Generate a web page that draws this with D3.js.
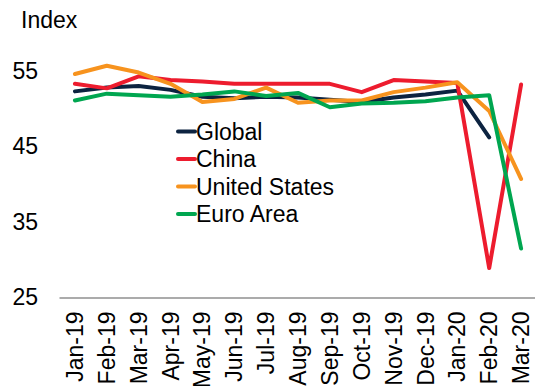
<!DOCTYPE html>
<html>
<head>
<meta charset="utf-8">
<script src="https://cdn.jsdelivr.net/npm/d3@7"></script>
<style>
  html, body { margin: 0; padding: 0; background: #fff; }
  svg { display: block; font-family: Arial, "Liberation Sans", sans-serif; }
</style>
</head>
<body>
<svg id="chart" width="535" height="386"></svg>
<script>
// Monthly composite PMI readings
const months = ["Jan-19","Feb-19","Mar-19","Apr-19","May-19","Jun-19","Jul-19","Aug-19",
                "Sep-19","Oct-19","Nov-19","Dec-19","Jan-20","Feb-20","Mar-20"];
const globalPmi = [52.3, 52.8, 53.0, 52.5, 51.6, 51.4, 51.6, 51.5, 51.2, 50.9, 51.5, 51.9, 52.4, 46.2, null];
const chinaPmi  = [53.3, 52.7, 54.3, 53.8, 53.6, 53.3, 53.3, 53.3, 53.3, 52.2, 53.8, 53.6, 53.4, 28.9, 53.2];
const usPmi     = [54.6, 55.7, 54.8, 53.3, 50.9, 51.3, 52.8, 50.8, 51.1, 51.1, 52.2, 52.8, 53.5, 49.7, 40.7];
const euroPmi   = [51.1, 52.0, 51.8, 51.6, 51.9, 52.3, 51.7, 52.1, 50.2, 50.7, 50.8, 51.0, 51.5, 51.8, 31.5];
const yTicks = [25, 35, 45, 55];

const seriesNames = ["Global", "China", "United States", "Euro Area"];
const seriesColors = ["#0c2340", "#ed1c2e", "#f7931e", "#00a650"];
const seriesValues = [globalPmi, chinaPmi, usPmi, euroPmi];

const svg = d3.select("#chart");
const fontSize = 23;
const fontFamily = "Arial, 'Liberation Sans', sans-serif";

const x = d3.scaleBand().domain(months).range([59, 537]).padding(0);
const y = d3.scaleLinear().domain([25, 55]).range([297.5, 71]);

// x axis: baseline rule with rotated month labels
const xAxis = svg.append("g")
  .attr("transform", `translate(0,${y(25)})`)
  .call(d3.axisBottom(x).tickSize(0).tickSizeOuter(0));
xAxis.select(".domain").attr("stroke", "#595959").attr("stroke-width", 1.2);
xAxis.selectAll("text")
  .attr("font-size", fontSize)
  .attr("font-family", fontFamily)
  .attr("fill", "#000")
  .attr("text-anchor", "end")
  .attr("transform", "rotate(-90)")
  .attr("x", -14)
  .attr("y", 0)
  .attr("dy", "0.35em");

// y axis: labels only
const yAxis = svg.append("g")
  .attr("transform", "translate(38,0)")
  .call(d3.axisLeft(y).tickValues(yTicks).tickSize(0).tickPadding(0));
yAxis.select(".domain").remove();
yAxis.selectAll("text")
  .attr("font-size", fontSize)
  .attr("font-family", fontFamily)
  .attr("fill", "#000");

svg.append("text")
  .attr("x", 21).attr("y", 20).attr("dy", "0.35em")
  .attr("font-size", fontSize).attr("fill", "#000")
  .text("Index");

// series lines
const line = d3.line()
  .defined(d => d.v != null)
  .x(d => x(d.m) + x.bandwidth() / 2)
  .y(d => y(d.v));

seriesValues.forEach((vals, i) => {
  const pts = months.map((m, j) => ({ m, v: vals[j] }));
  svg.append("path")
    .datum(pts)
    .attr("fill", "none")
    .attr("stroke", seriesColors[i])
    .attr("stroke-width", 4)
    .attr("stroke-linejoin", "round")
    .attr("stroke-linecap", "round")
    .attr("d", line);
});

// legend
const legendY = [131.5, 159, 186.5, 214];
const legend = svg.append("g");
seriesNames.forEach((name, i) => {
  legend.append("line")
    .attr("x1", 178).attr("x2", 195)
    .attr("y1", legendY[i]).attr("y2", legendY[i])
    .attr("stroke", seriesColors[i]).attr("stroke-width", 4)
    .attr("stroke-linecap", "round");
  legend.append("text")
    .attr("x", 196).attr("y", legendY[i]).attr("dy", "0.35em")
    .attr("font-size", fontSize).attr("fill", "#000")
    .text(name);
});
</script>
</body>
</html>
